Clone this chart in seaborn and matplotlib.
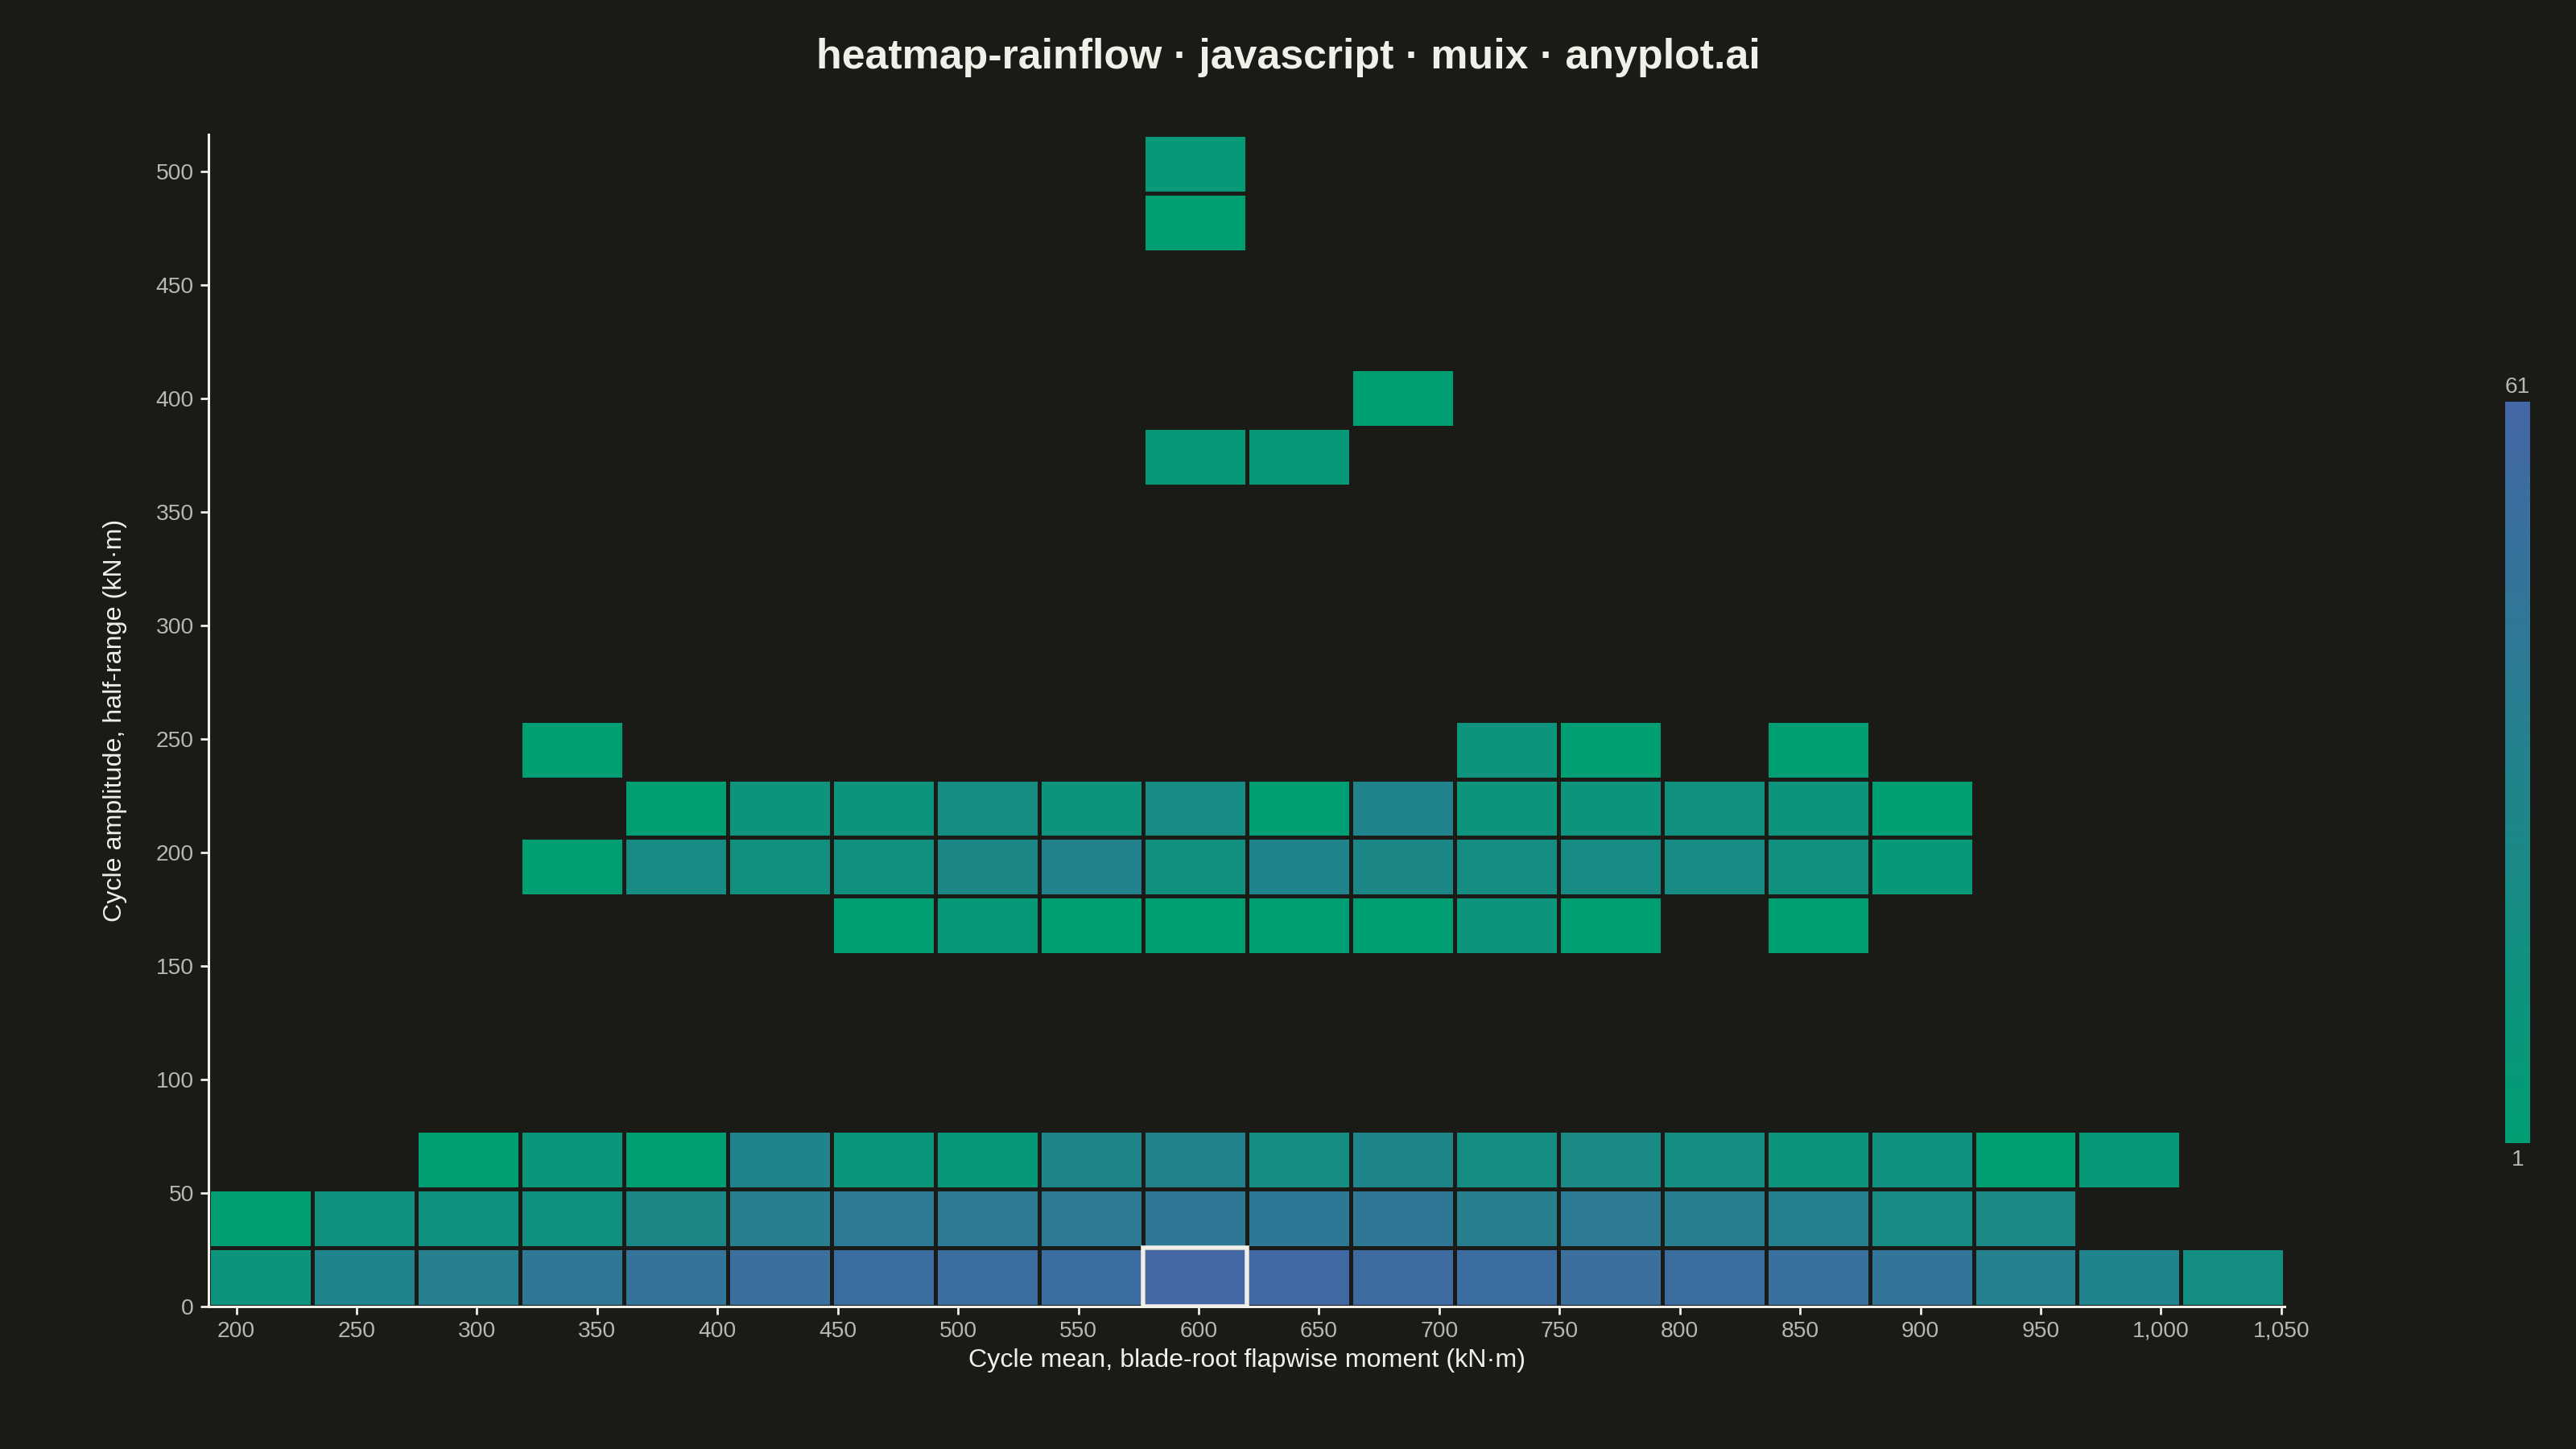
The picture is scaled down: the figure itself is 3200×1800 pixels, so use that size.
import numpy as np
import pandas as pd
import seaborn as sns
import matplotlib
matplotlib.use("Agg")
import matplotlib.pyplot as plt
from matplotlib.colors import LinearSegmentedColormap
from matplotlib.patches import Rectangle
from matplotlib.ticker import FuncFormatter

# rainflow matrix: 20 mean bins x 20 amplitude bins, counts
mean_start, mean_step = 188.5, 43.15   # kN·m
amp_start, amp_step = 0.0, 25.8        # kN·m
n_bins = 20

# counts per amplitude row (index = amplitude bin), one value per mean bin, 0 = empty
amp_row_0 = [13, 30, 35, 42, 47, 52, 54, 53, 54, 61, 58, 56, 54, 52, 53, 51, 46, 34, 30, 18]
amp_row_1 = [1, 15, 15, 15, 25, 35, 40, 40, 40, 42, 41, 42, 35, 40, 35, 34, 21, 23, 0, 0]
amp_row_2 = [0, 0, 1, 10, 1, 30, 11, 6, 28, 32, 20, 28, 20, 23, 19, 13, 15, 1, 6, 0]
amp_row_6 = [0, 0, 0, 0, 0, 0, 1, 6, 1, 1, 1, 1, 13, 1, 0, 1, 0, 0, 0, 0]
amp_row_7 = [0, 0, 0, 1, 21, 16, 16, 25, 32, 16, 30, 25, 20, 21, 21, 16, 6, 0, 0, 0]
amp_row_8 = [0, 0, 0, 0, 1, 13, 13, 20, 13, 21, 1, 30, 13, 13, 16, 13, 1, 0, 0, 0]
amp_row_9 = [0, 0, 0, 1, 0, 0, 0, 0, 0, 0, 0, 0, 12, 1, 0, 1, 0, 0, 0, 0]
amp_row_14 = [0, 0, 0, 0, 0, 0, 0, 0, 0, 6, 6, 0, 0, 0, 0, 0, 0, 0, 0, 0]
amp_row_15 = [0, 0, 0, 0, 0, 0, 0, 0, 0, 0, 0, 1, 0, 0, 0, 0, 0, 0, 0, 0]
amp_row_18 = [0, 0, 0, 0, 0, 0, 0, 0, 0, 1, 0, 0, 0, 0, 0, 0, 0, 0, 0, 0]
amp_row_19 = [0, 0, 0, 0, 0, 0, 0, 0, 0, 6, 0, 0, 0, 0, 0, 0, 0, 0, 0, 0]

rows = {0: amp_row_0, 1: amp_row_1, 2: amp_row_2, 6: amp_row_6, 7: amp_row_7,
        8: amp_row_8, 9: amp_row_9, 14: amp_row_14, 15: amp_row_15,
        18: amp_row_18, 19: amp_row_19}

x_ticks = list(range(200, 1051, 50))
y_ticks = list(range(0, 501, 50))

bg = "#1A1A17"
fg = "#F0EFE8"
tick_col = "#B8B8B0"

# long-form table of bin centres + counts
recs = []
for ri, vals in rows.items():
    for ci, c in enumerate(vals):
        if c > 0:
            recs.append({"mean": mean_start + (ci + 0.5) * mean_step,
                         "amp": amp_start + (ri + 0.5) * amp_step,
                         "count": c})
df = pd.DataFrame(recs)

x_range = (mean_start, mean_start + n_bins * mean_step)
y_range = (amp_start, amp_start + n_bins * amp_step)

sns.set_theme(style="dark")
plt.rcParams["font.family"] = ["Liberation Sans", "DejaVu Sans"]

cmap = LinearSegmentedColormap.from_list("rain", ["#009E73", "#4467A6"])
vmin, vmax = df["count"].min(), df["count"].max()

fig = plt.figure(figsize=(16, 9), dpi=200, facecolor=bg)
ax = fig.add_axes([0.081, 0.0986, 0.806, 0.8084])
ax.set_facecolor(bg)

sns.histplot(data=df, x="mean", y="amp", weights="count",
             bins=n_bins, binrange=(x_range, y_range),
             cmap=cmap, vmin=vmin, vmax=vmax,
             edgecolor=bg, linewidth=1.1, ax=ax)

# highlight the peak cell
peak = df.loc[df["count"].idxmax()]
ax.add_patch(Rectangle((peak["mean"] - mean_step / 2, peak["amp"] - amp_step / 2),
                       mean_step, amp_step, fill=False, edgecolor=fg,
                       linewidth=2.0, zorder=5))

ax.set_xlim(*x_range)
ax.set_ylim(*y_range)
ax.set_xticks(x_ticks)
ax.set_yticks(y_ticks)
ax.xaxis.set_major_formatter(FuncFormatter(lambda v, p: f"{v:,.0f}"))
ax.grid(False)
for s in ["top", "right"]:
    ax.spines[s].set_visible(False)
for s in ["left", "bottom"]:
    ax.spines[s].set_color(fg)
    ax.spines[s].set_linewidth(1.1)
ax.tick_params(axis="both", colors=fg, labelcolor=tick_col, labelsize=10.2,
               length=3.6, width=1.0, direction="out", bottom=True, left=True, pad=3)

ax.set_xlabel("Cycle mean, blade-root flapwise moment (kN·m)", color=fg, fontsize=11.6, labelpad=3)
ax.set_ylabel("Cycle amplitude, half-range (kN·m)", color=fg, fontsize=11.6, labelpad=13)

fig.text(0.5, 0.960, "heatmap-rainflow · javascript · muix · anyplot.ai",
         ha="center", va="center", color=fg, fontsize=18.7, fontweight="bold")

# colorbar
cax = fig.add_axes([0.9726, 0.211, 0.0096, 0.512])
sm = plt.cm.ScalarMappable(cmap=cmap, norm=plt.Normalize(vmin, vmax))
cb = fig.colorbar(sm, cax=cax)
cb.outline.set_visible(False)
cb.set_ticks([])
cax.text(0.5, 1.005, f"{vmax}", transform=cax.transAxes, ha="center", va="bottom",
         color=tick_col, fontsize=10.2)
cax.text(0.5, -0.008, f"{vmin}", transform=cax.transAxes, ha="center", va="top",
         color=tick_col, fontsize=10.2)

fig.savefig("out.png", dpi=200, facecolor=bg)
